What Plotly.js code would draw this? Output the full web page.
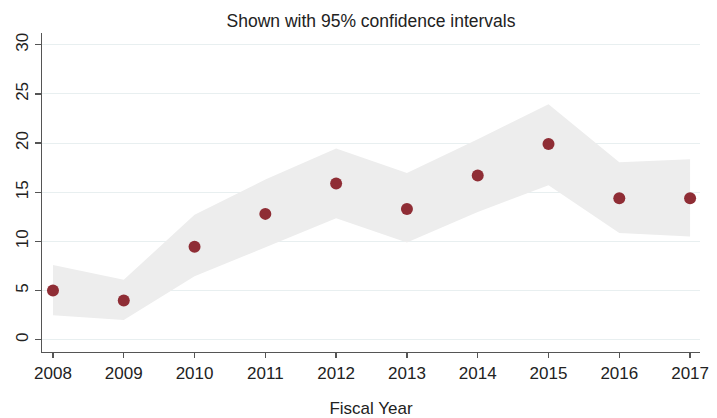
<!DOCTYPE html>
<html>
<head>
<meta charset="utf-8">
<script src="https://cdn.plot.ly/plotly-3.0.1.min.js"></script>
<style>html,body{margin:0;padding:0;background:#fff;}#chart{width:717px;height:418px;}</style>
</head>
<body>
<div id="chart"></div>
<script>
const years = [2008, 2009, 2010, 2011, 2012, 2013, 2014, 2015, 2016, 2017];
const estimate = [5.0, 4.0, 9.45, 12.8, 15.9, 13.3, 16.7, 19.9, 14.4, 14.4];
const ciLower = [2.5, 2.0, 6.45, 9.4, 12.35, 9.9, 13.0, 15.7, 10.85, 10.5];
const ciUpper = [7.6, 6.1, 12.7, 16.3, 19.45, 16.95, 20.4, 23.95, 18.05, 18.35];
const yTicks = [0, 5, 10, 15, 20, 25, 30];

const font = "Liberation Sans, Arial, Helvetica, sans-serif";

const traces = [
  {x: years, y: ciLower, type: 'scatter', mode: 'lines', line: {width: 0, color: 'rgba(0,0,0,0)'}, hoverinfo: 'skip', showlegend: false},
  {x: years, y: ciUpper, type: 'scatter', mode: 'lines', line: {width: 0, color: 'rgba(0,0,0,0)'}, fill: 'tonexty', fillcolor: '#ededed', hoverinfo: 'skip', showlegend: false},
  {x: years, y: estimate, type: 'scatter', mode: 'markers', marker: {color: '#8f2d35', size: 12}, showlegend: false}
];

const layout = {
  width: 717, height: 418,
  paper_bgcolor: '#ffffff', plot_bgcolor: '#ffffff',
  margin: {l: 42, r: 17, t: 33, b: 66},
  title: {text: 'Shown with 95% confidence intervals', font: {family: font, size: 17.5, color: '#222'}, x: 0.5175, xanchor: 'center', y: 0.95, yanchor: 'middle'},
  xaxis: {
    range: [2007.845, 2017.14],
    tickvals: years, ticktext: years.map(String),
    showgrid: false, zeroline: false,
    showline: true, linecolor: '#555', linewidth: 1.3,
    ticks: 'outside', ticklen: 5, tickcolor: '#555', tickwidth: 1.3,
    tickfont: {family: font, size: 17, color: '#222'},
    title: {text: 'Fiscal Year', font: {family: font, size: 17, color: '#222'}, standoff: 26}
  },
  yaxis: {
    range: [-1.25, 31.2],
    tickvals: yTicks, ticktext: yTicks.map(String),
    tickangle: -90,
    showgrid: true, gridcolor: '#e8eff0', gridwidth: 1,
    zeroline: false,
    showline: true, linecolor: '#555', linewidth: 1.3,
    ticks: 'outside', ticklen: 6, tickcolor: '#555', tickwidth: 1.3,
    tickfont: {family: font, size: 17, color: '#222'}
  },
  showlegend: false
};

Plotly.newPlot('chart', traces, layout, {displayModeBar: false, staticPlot: true});
</script>
</body>
</html>
